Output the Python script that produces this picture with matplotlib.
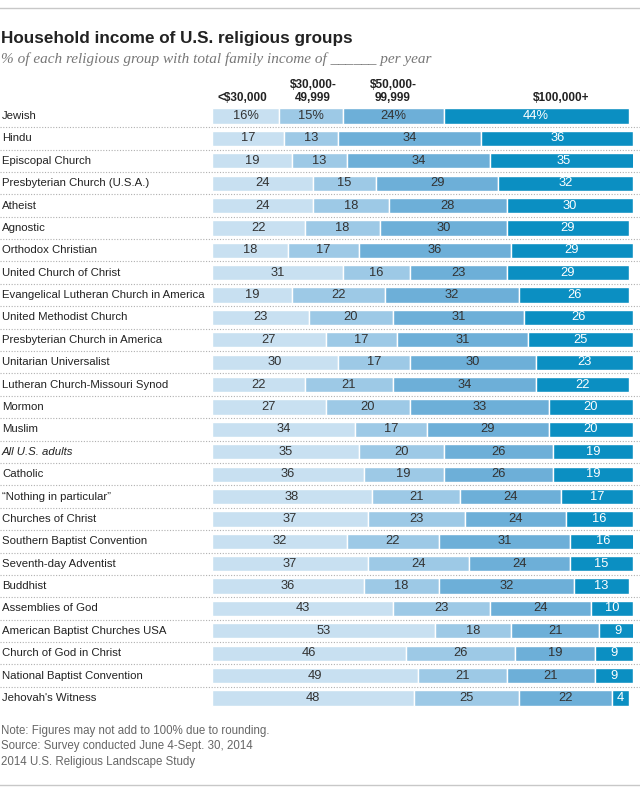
import matplotlib
matplotlib.use("Agg")
import matplotlib.pyplot as plt
from matplotlib.transforms import blended_transform_factory

groups = ["Jewish", "Hindu", "Episcopal Church", "Presbyterian Church (U.S.A.)", "Atheist",
          "Agnostic", "Orthodox Christian", "United Church of Christ",
          "Evangelical Lutheran Church in America", "United Methodist Church",
          "Presbyterian Church in America", "Unitarian Universalist",
          "Lutheran Church-Missouri Synod", "Mormon", "Muslim", "All U.S. adults",
          "Catholic", "\u201cNothing in particular\u201d", "Churches of Christ",
          "Southern Baptist Convention", "Seventh-day Adventist", "Buddhist",
          "Assemblies of God", "American Baptist Churches USA", "Church of God in Christ",
          "National Baptist Convention", "Jehovah's Witness"]
under30 = [16, 17, 19, 24, 24, 22, 18, 31, 19, 23, 27, 30, 22, 27, 34, 35, 36, 38, 37, 32, 37, 36, 43, 53, 46, 49, 48]
from30to50 = [15, 13, 13, 15, 18, 18, 17, 16, 22, 20, 17, 17, 21, 20, 17, 20, 19, 21, 23, 22, 24, 18, 23, 18, 26, 21, 25]
from50to100 = [24, 34, 34, 29, 28, 30, 36, 23, 32, 31, 31, 30, 34, 33, 29, 26, 26, 24, 24, 31, 24, 32, 24, 21, 19, 21, 22]
over100 = [44, 36, 35, 32, 30, 29, 29, 29, 26, 26, 25, 23, 22, 20, 20, 19, 19, 17, 16, 16, 15, 13, 10, 9, 9, 9, 4]
headers = ["<$30,000", "$30,000-\n49,999", "$50,000-\n99,999", "$100,000+"]

series = [under30, from30to50, from50to100, over100]
colors = ["#c8e0f1", "#9dc9e6", "#6dafd8", "#0b8fc2"]
text_colors = ["#333333", "#333333", "#333333", "white"]

plt.rcParams['font.family'] = ['Liberation Sans', 'DejaVu Sans']

W, H = 640, 792
fig = plt.figure(figsize=(W / 100, H / 100), dpi=100)
fig.patch.set_facecolor("white")

top_px, bot_px = 104.8, 709.2
ax = fig.add_axes([212 / W, 1 - bot_px / H, 421 / W, (bot_px - top_px) / H])
ax.set_xlim(0, 100)
ax.set_ylim(len(groups) - 0.5, -0.5)
ax.axis("off")

n = len(groups)
ypos = list(range(n))
left = [0] * n
for s, (vals, col, tc) in enumerate(zip(series, colors, text_colors)):
    ax.barh(ypos, vals, left=left, height=0.68, color=col, edgecolor="white", linewidth=1.0)
    for i, v in enumerate(vals):
        lab = f"{v}%" if i == 0 else f"{v}"
        ax.text(left[i] + v / 2, i, lab, ha="center", va="center", fontsize=9.3, color=tc)
    left = [l + v for l, v in zip(left, vals)]

trans = blended_transform_factory(fig.transFigure, ax.transData)
for i, g in enumerate(groups):
    ax.text(2 / W, i, g, transform=trans, ha="left", va="center", fontsize=8.2,
            color="#222222", style="italic" if g == "All U.S. adults" else "normal")
for i in range(n - 1):
    ax.plot([0, 1], [i + 0.5, i + 0.5], transform=trans, color="#b0b0b0",
            linestyle=(0, (1, 1.5)), linewidth=0.8, clip_on=False)

# column headers
head_x = [7.2, 24, 43, 83]
htrans = blended_transform_factory(ax.transData, fig.transFigure)
for hx, h in zip(head_x, headers):
    ax.text(hx, 1 - 104 / H, h, transform=htrans, ha="center", va="bottom",
            fontsize=8.5, fontweight="bold", color="#222222", linespacing=1.1)

# title / subtitle
fig.text(1 / W, 1 - 38 / H, "Household income of U.S. religious groups", ha="left", va="center",
         fontsize=12.3, fontweight="bold", color="#222222")
fig.text(1 / W, 1 - 59 / H,
         "% of each religious group with total family income of ______ per year",
         ha="left", va="center", fontsize=11, style="italic", color="#777777",
         family=["Liberation Serif", "DejaVu Serif"])

# notes
notes = ["Note: Figures may not add to 100% due to rounding.",
         "Source: Survey conducted June 4-Sept. 30, 2014",
         "2014 U.S. Religious Landscape Study"]
for k, t in enumerate(notes):
    fig.text(1 / W, 1 - (731 + 15.3 * k) / H, t, ha="left", va="center", fontsize=8.3,
             color="#666666")

# frame lines
fig.add_artist(plt.Line2D([0, 1], [1 - 8 / H, 1 - 8 / H], color="#c8c8c8", linewidth=1.0))
fig.add_artist(plt.Line2D([0, 1], [1 - 785 / H, 1 - 785 / H], color="#c8c8c8", linewidth=1.0))

fig.savefig("out.png", dpi=100, facecolor="white")
